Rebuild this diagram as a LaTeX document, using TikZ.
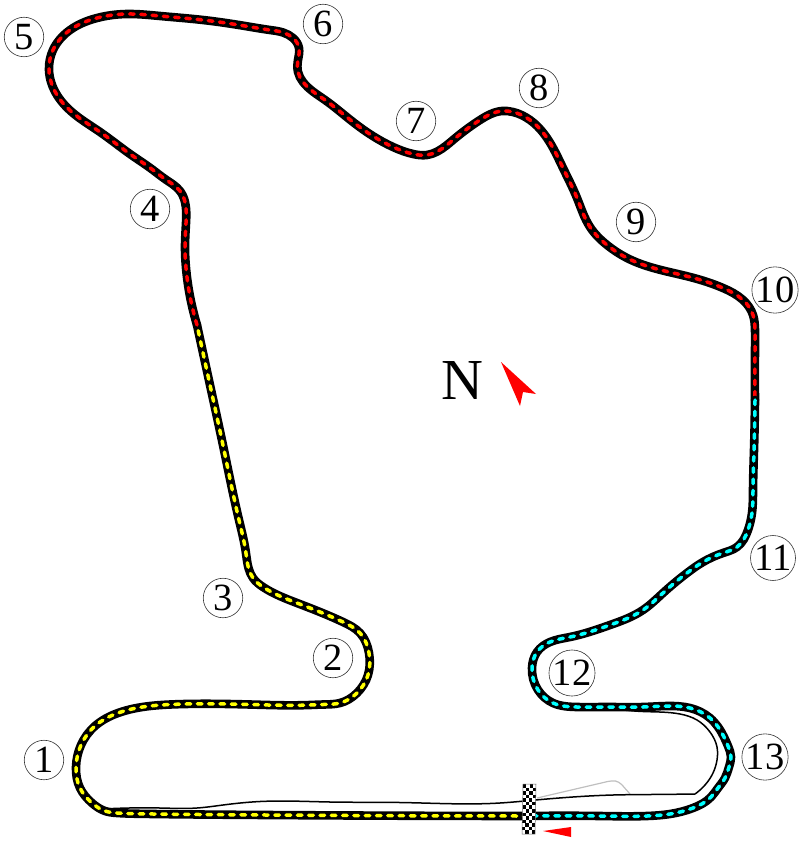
\documentclass[tikz,border=0pt]{standalone}
\usepackage{xcolor}
\usepackage{fontspec}
\setmainfont{Liberation Serif}
\usetikzlibrary{hobby}
\definecolor{sectora}{HTML}{FFFF00}
\definecolor{sectorb}{HTML}{FF0000}
\definecolor{sectorc}{HTML}{00FFFF}
\tikzset{
  trk/.style={line width=8.6pt,draw=black,line cap=round,line join=round},
  trkdash/.style={line width=3.5pt,line cap=round,dash pattern=on 4.6pt off 6.7pt},
  pit/.style={line width=1.5pt,draw=black,line join=round},
  pitold/.style={line width=1.2pt,draw=black!25,line join=round},
  corner/.style={circle,draw=black!80,line width=0.6pt,fill=white,minimum size=39.5pt,
    inner sep=0pt,font=\fontsize{38.5}{38.5}\selectfont},
  redmark/.style={fill=sectorb,draw=none},
}
\newcommand{\tracksector}[2]{%
  \draw[trk,use Hobby shortcut] #2;
  \draw[trkdash,draw=#1,use Hobby shortcut] #2;
}
\begin{document}
\begin{tikzpicture}[x=1pt,y=-1pt]
  \useasboundingbox (0,0) rectangle (800,842);
  % pit lane first, the track runs over it
  \draw[pitold,rounded corners=4pt] (537,798) -- (612,780.5) -- (619,781.5) -- (630,794);
  \draw[pit,use Hobby shortcut] (103,809) .. (160,808) .. (197,808) .. (223,805) .. (260,801.5) .. (330,802)
    .. (400,802.5) .. (500,803) .. (530,800.5) .. (613,795) .. (650,794.5) .. (695,794);
  \draw[pit,use Hobby shortcut] (695,794) .. (705,785) .. (713,773) .. (717,760) .. (717,747) .. (710,732)
    .. (697,720) .. (680,714) .. (643,711.5) .. (610,708);
  % sectors
  \tracksector{sectora}{(528,816) .. (400,815.7) .. (300,815.2) .. (200,814.5) .. (140,813.8) .. (117,813)
    .. (105,811) .. (92,803) .. (80,788) .. (76,767) .. (81,745) .. (95,726) .. (118,713) .. (150,706)
    .. (175,704.3) .. (250,704.5) .. (310,705) .. (323,704.5) .. (340,703) .. (357,693)
    .. (368,675) .. (369,653) .. (360,633) .. (343,622) .. (320,612) .. (297,603) .. (263,587) .. (253,578)
    .. (248.5,568) .. (245.8,552) .. (239,520) .. (224,450) .. (210,385) .. (197,325)}
  \tracksector{sectorb}{(197,325) .. (186,268) .. (185,247) .. (186,223) .. (185,202) .. (180,191) .. (165,179)
    .. (153,170) .. (130,154) .. (100,132) .. (73,113) .. (57,95) .. (49,70) .. (53,50) .. (73,28) .. (97,18)
    .. (127,14) .. (160,16) .. (203,20) .. (245,26) .. (270,30) .. (283,32.5) .. (293,38) .. (299,48)
    .. (298,60) .. (298,72) .. (303,82) .. (325,100) .. (353,122) .. (393,147) .. (413,154) .. (427,155)
    .. (447,145) .. (453,140) .. (480,120) .. (502,111) .. (513,112) .. (530,120) .. (547,138) .. (563,168)
    .. (577,198) .. (590,227) .. (607,245) .. (627,258) .. (657,269) .. (690,277) .. (723,288) .. (743,300)
    .. (753,315) .. (755,330) .. (755,350) .. (755,400)}
  \tracksector{sectorc}{(755,400) .. (754,450) .. (753,490) .. (752,513) .. (748,530) .. (737,547) .. (723,553)
    .. (703,562) .. (687,573) .. (663,593) .. (643,610) .. (610,625) .. (570,637) .. (550,642) .. (537,652)
    .. (532,668) .. (538,690) .. (553,703) .. (577,707) .. (610,707) .. (643,707) .. (667,706) .. (690,708)
    .. (710,718) .. (724,737) .. (728,746) .. (731,757) .. (729,767) .. (725,778) .. (718,788) .. (711,797)
    .. (693,808) .. (670,814) .. (647,816) .. (600,816) .. (528,816)}
  % start line
  \fill[white] (523,784) -- (536,784) -- (535,834) -- (522,834) -- cycle;
  \foreach \row in {0,...,13}{
    \foreach \col in {0,...,3}{
      \pgfmathtruncatemacro{\shade}{mod(\row+\col,2)}
      \ifnum\shade=0
        \fill[black] (523+\col*3.25-\row*0.07,784+\row*3.57) rectangle ++(3.25,3.57);
      \fi
    }
  }
  \draw[black!60,line width=0.5pt] (523,784) -- (536,784) -- (535,834) -- (522,834) -- cycle;
  % direction marks
  \fill[redmark] (543,831) -- (571,827) -- (571,837) -- cycle;
  \fill[redmark] (501,362) -- (536,394) -- (523,392) -- (520,406) -- cycle;
  \node[font=\fontsize{58}{58}\selectfont] (north) at (462,381) {N};
  % corners
  \foreach \name/\px/\py in {1/44/760,2/333/658,3/223/598,4/150/209,5/24/37,6/323/24,7/416/121,
    8/539/88,9/636/222,10/775/290,11/773/558,12/572/673,13/765/757}{
    \node[corner] (c\name) at (\px,\py) {\name};
  }
\end{tikzpicture}
\end{document}
